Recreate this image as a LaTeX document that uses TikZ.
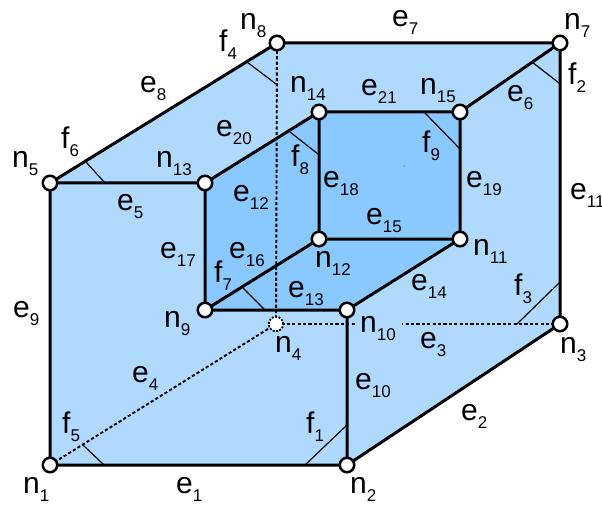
\documentclass[tikz,border=0pt]{standalone}
\usepackage{fontspec}
\setmainfont{Liberation Sans}
\definecolor{lightface}{HTML}{AFD9FF}
\definecolor{darkface}{HTML}{8AC9FF}
\tikzset{
  x=1pt,y=-1pt,
  vertex/.style={circle,draw=black,fill=white,line width=2.5pt,minimum size=14.5pt,inner sep=0pt},
  hidden/.style={vertex,line width=1.8pt,dash pattern=on 2pt off 1.4pt},
  solidedge/.style={line width=3pt,black},
  hiddenedge/.style={line width=1.9pt,black,dash pattern=on 3.2pt off 2.2pt},
  tick/.style={line width=1.2pt,black},
  lab/.style={inner sep=0pt,anchor=base west,font=\fontsize{30}{30}\selectfont,text=black},
}
\newcommand{\lb}[2]{#1\raisebox{-8pt}{\fontsize{17}{17}\selectfont #2}}
\begin{document}
\begin{tikzpicture}
\useasboundingbox (0,0) rectangle (602,505);
\coordinate (c1) at (50,465);
\coordinate (c2) at (347,465);
\coordinate (c3) at (560,324);
\coordinate (c4) at (276,324);
\coordinate (c5) at (50,183);
\coordinate (c7) at (560,43);
\coordinate (c8) at (277,43);
\coordinate (c9) at (205,310);
\coordinate (c10) at (347,310);
\coordinate (c11) at (460,239);
\coordinate (c12) at (319,239);
\coordinate (c13) at (205,183);
\coordinate (c14) at (319,112);
\coordinate (c15) at (460,112);
\fill[lightface] (c1)--(c2)--(c3)--(c7)--(c8)--(c5)--cycle;
\fill[darkface] (c9)--(c13)--(c14)--(c15)--(c11)--(c10)--cycle;
\fill[black] (404,166) circle (0.5pt);
\draw[hiddenedge] (c1)--(c4);
\draw[hiddenedge] (c4)--(c3);
\draw[hiddenedge] (c4)--(c8);
\draw[solidedge] (c1)--(c2) (c2)--(c3) (c3)--(c7) (c7)--(c8) (c8)--(c5) (c5)--(c1);
\draw[solidedge] (c5)--(c13) (c7)--(c15) (c2)--(c10);
\draw[solidedge] (c9)--(c10) (c10)--(c11) (c11)--(c12) (c12)--(c9);
\draw[solidedge] (c13)--(c14) (c14)--(c15) (c13)--(c9) (c14)--(c12) (c15)--(c11);
\draw[tick] (83,445)--(104,465);
\draw[tick] (305,465)--(347,425);
\draw[tick] (532,62)--(559,83);
\draw[tick] (517,324)--(559,283);
\draw[tick] (247,62)--(276,84);
\draw[tick] (86,162)--(105,183);
\draw[tick] (243,288)--(264,309);
\draw[tick] (290,132)--(318,154);
\draw[tick] (425,113)--(459,148);
\fill[lightface] (357,315) rectangle (402,333);
\node[vertex] (n1) at (c1) {};
\node[vertex] (n2) at (c2) {};
\node[vertex] (n3) at (c3) {};
\node[hidden] (n4) at (c4) {};
\node[vertex] (n5) at (c5) {};
\node[vertex] (n7) at (c7) {};
\node[vertex] (n8) at (c8) {};
\node[vertex] (n9) at (c9) {};
\node[vertex] (n10) at (c10) {};
\node[vertex] (n11) at (c11) {};
\node[vertex] (n12) at (c12) {};
\node[vertex] (n13) at (c13) {};
\node[vertex] (n14) at (c14) {};
\node[vertex] (n15) at (c15) {};
\node[lab] (ln1) at (23,493) {\lb{n}{1}};
\node[lab] (ln2) at (350,493) {\lb{n}{2}};
\node[lab] (ln3) at (560,353) {\lb{n}{3}};
\node[lab] (ln4) at (275,352) {\lb{n}{4}};
\node[lab] (ln5) at (12,168) {\lb{n}{5}};
\node[lab] (ln7) at (564,30) {\lb{n}{7}};
\node[lab] (ln8) at (240,30) {\lb{n}{8}};
\node[lab] (ln9) at (164,327) {\lb{n}{9}};
\node[lab] (ln10) at (360,332) {\lb{n}{10}};
\node[lab] (ln11) at (473,255) {\lb{n}{11}};
\node[lab] (ln12) at (315,267) {\lb{n}{12}};
\node[lab] (ln13) at (156,168) {\lb{n}{13}};
\node[lab] (ln14) at (290,93) {\lb{n}{14}};
\node[lab] (ln15) at (420,95) {\lb{n}{15}};
\node[lab] (le1) at (176,493) {\lb{e}{1}};
\node[lab] (le2) at (461,420) {\lb{e}{2}};
\node[lab] (le3) at (420,348) {\lb{e}{3}};
\node[lab] (le4) at (132,382) {\lb{e}{4}};
\node[lab] (le5) at (117,211) {\lb{e}{5}};
\node[lab] (le6) at (507,102) {\lb{e}{6}};
\node[lab] (le7) at (392,27) {\lb{e}{7}};
\node[lab] (le8) at (140,93) {\lb{e}{8}};
\node[lab] (le9) at (13,317) {\lb{e}{9}};
\node[lab] (le10) at (355,389) {\lb{e}{10}};
\node[lab] (le11) at (570,200) {\lb{e}{11}};
\node[lab] (le12) at (233,201) {\lb{e}{12}};
\node[lab] (le13) at (288,297) {\lb{e}{13}};
\node[lab] (le14) at (411,290) {\lb{e}{14}};
\node[lab] (le15) at (366,225) {\lb{e}{15}};
\node[lab] (le16) at (229,258) {\lb{e}{16}};
\node[lab] (le17) at (160,258) {\lb{e}{17}};
\node[lab] (le18) at (323,188) {\lb{e}{18}};
\node[lab] (le19) at (466,188) {\lb{e}{19}};
\node[lab] (le20) at (216,137) {\lb{e}{20}};
\node[lab] (le21) at (361,96) {\lb{e}{21}};
\node[lab] (lf1) at (306,433) {\lb{f}{1}};
\node[lab] (lf2) at (568,85) {\lb{f}{2}};
\node[lab] (lf3) at (514,295) {\lb{f}{3}};
\node[lab] (lf4) at (219,52) {\lb{f}{4}};
\node[lab] (lf5) at (62,433) {\lb{f}{5}};
\node[lab] (lf6) at (61,149) {\lb{f}{6}};
\node[lab] (lf7) at (214,282) {\lb{f}{7}};
\node[lab] (lf8) at (291,167) {\lb{f}{8}};
\node[lab] (lf9) at (422,153) {\lb{f}{9}};
\end{tikzpicture}
\end{document}
